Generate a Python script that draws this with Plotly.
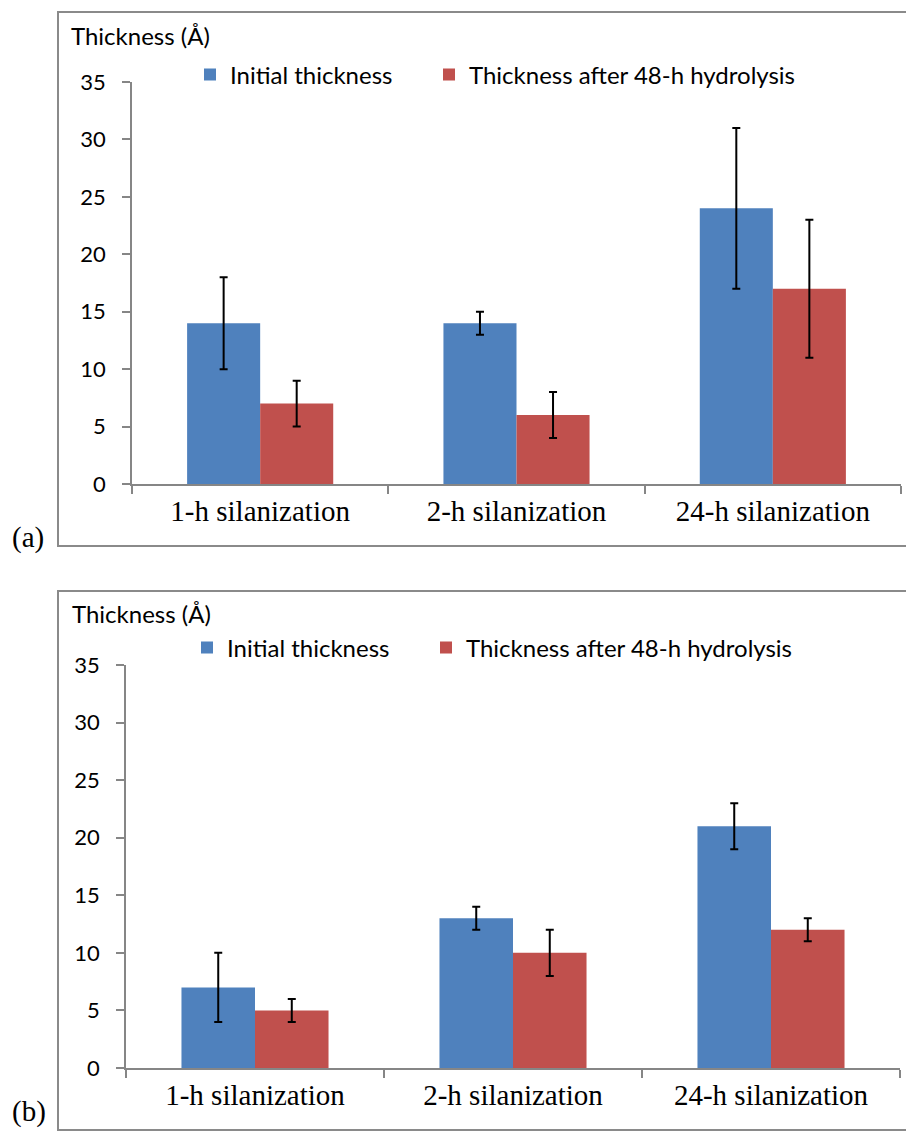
import plotly.graph_objects as go

categories = ["1-h silanization", "2-h silanization", "24-h silanization"]
series_names = ["Initial thickness", "Thickness after 48-h hydrolysis"]

# Panel (a)
a_initial = [14, 14, 24]
a_initial_err = [4, 1, 7]
a_hydrolysis = [7, 6, 17]
a_hydrolysis_err = [2, 2, 6]

# Panel (b)
b_initial = [7, 13, 21]
b_initial_err = [3, 1, 2]
b_hydrolysis = [5, 10, 12]
b_hydrolysis_err = [1, 2, 1]

y_ticks = [0, 5, 10, 15, 20, 25, 30, 35]

BLUE = "#4F81BD"
RED = "#C0504D"
W, H = 914, 1133
OFF = 8  # page body margin
SANS = "Lato, 'Open Sans', sans-serif"
SERIF = "'Liberation Serif', 'Times New Roman', serif"

def px(x):
    return (x - OFF) / W

def py(y):
    return (H - (y - OFF)) / H

fig = go.Figure()

def add_panel(vals1, err1, vals2, err2, xa, ya, legends):
    for name, vals, err, color, lg in [(series_names[0], vals1, err1, BLUE, legends[0]),
                                       (series_names[1], vals2, err2, RED, legends[1])]:
        fig.add_trace(go.Bar(
            x=categories, y=vals, name=name,
            marker=dict(color=color, line=dict(width=0)),
            error_y=dict(type="data", array=err, visible=True,
                         color="black", thickness=2, width=4),
            xaxis=xa, yaxis=ya, legend=lg, showlegend=True,
        ))

add_panel(a_initial, a_initial_err, a_hydrolysis, a_hydrolysis_err, "x", "y", ("legend", "legend2"))
add_panel(b_initial, b_initial_err, b_hydrolysis, b_hydrolysis_err, "x2", "y2", ("legend3", "legend4"))

AX = "#868686"
xcommon = dict(type="category", showline=True, linecolor=AX, linewidth=1.5,
               ticks="outside", tickson="boundaries", ticklen=8, tickcolor=AX,
               tickwidth=1.5, showgrid=False, zeroline=False,
               tickfont=dict(family=SERIF, size=29, color="black"))
ycommon = dict(range=[0, 35], tickvals=y_ticks, showline=True, linecolor=AX,
               linewidth=1.5, ticks="outside", ticklen=8, tickcolor=AX,
               tickwidth=1.5, showgrid=False, zeroline=False, ticklabelstandoff=12,
               tickfont=dict(family=SANS, size=22, color="black"))

legend_common = dict(orientation="h", xanchor="left", yanchor="middle",
                     bgcolor="rgba(0,0,0,0)", font=dict(family=SANS, size=24, color="black"),
                     itemwidth=30)

fig.update_layout(
    width=W, height=H,
    margin=dict(l=0, r=0, t=0, b=0, autoexpand=False),
    paper_bgcolor="white", plot_bgcolor="white",
    barmode="group", bargap=0.43, bargroupgap=0,
    xaxis=dict(domain=[px(132), px(901)], anchor="y", **xcommon),
    yaxis=dict(domain=[py(484), py(82)], anchor="x", **ycommon),
    xaxis2=dict(domain=[px(126), px(900)], anchor="y2", **xcommon),
    yaxis2=dict(domain=[py(1068), py(665)], anchor="x2", **ycommon),
    legend=dict(x=px(190), y=py(75), **legend_common),
    legend2=dict(x=px(429), y=py(75), **legend_common),
    legend3=dict(x=px(187), y=py(648), **legend_common),
    legend4=dict(x=px(426), y=py(648), **legend_common),
    showlegend=True,
)

# panel frames
fig.add_shape(type="rect", xref="paper", yref="paper",
              x0=px(58), x1=px(940), y0=py(546), y1=py(12),
              line=dict(color="#8a8a8a", width=2), fillcolor="rgba(0,0,0,0)")
fig.add_shape(type="rect", xref="paper", yref="paper",
              x0=px(58), x1=px(940), y0=py(1130), y1=py(591),
              line=dict(color="#8a8a8a", width=2), fillcolor="rgba(0,0,0,0)")

# y-axis titles
for xx, yy in [(69, 35), (70, 613)]:
    fig.add_annotation(text="Thickness (Å)", xref="paper", yref="paper",
                       x=px(xx), y=py(yy), xanchor="left", yanchor="middle",
                       showarrow=False, font=dict(family=SANS, size=24, color="black"))

# panel labels
for lab, yy in [("(a)", 537), ("(b)", 1111)]:
    fig.add_annotation(text=lab, xref="paper", yref="paper",
                       x=px(10), y=py(yy), xanchor="left", yanchor="middle",
                       showarrow=False, font=dict(family=SERIF, size=29, color="black"))

fig.write_html("out.html")
